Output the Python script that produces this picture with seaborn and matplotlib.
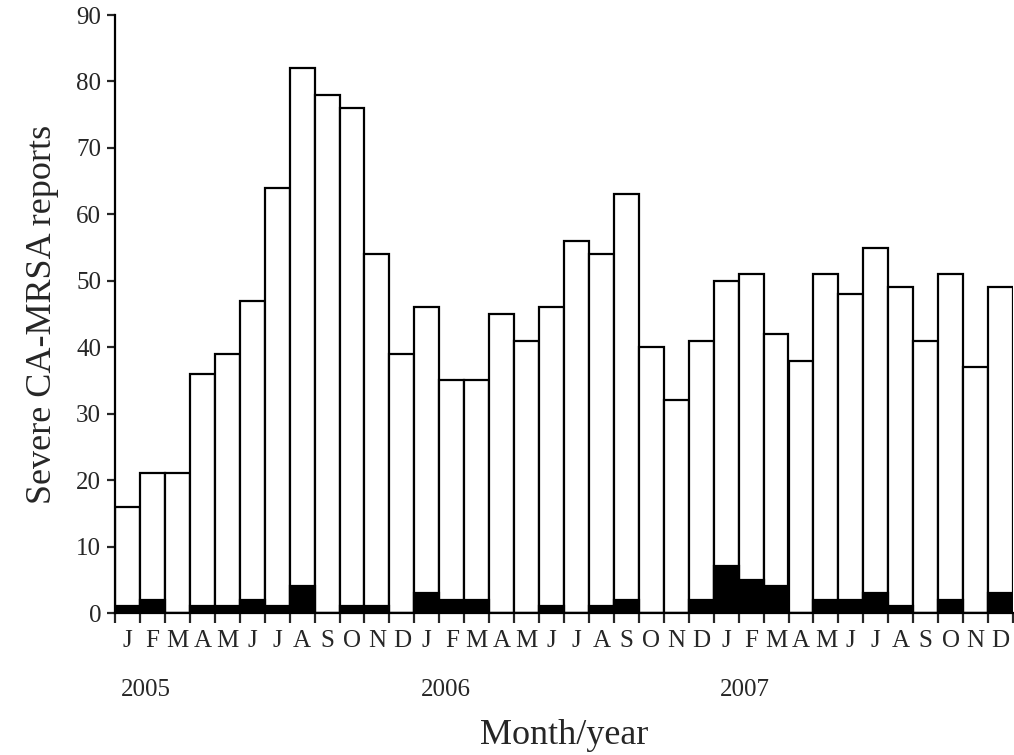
import matplotlib
matplotlib.use("Agg")
import matplotlib.pyplot as plt
import matplotlib.transforms as mtransforms
import seaborn as sns
import pandas as pd
import numpy as np

months = ["J", "F", "M", "A", "M", "J", "J", "A", "S", "O", "N", "D"]
years = ["2005", "2006", "2007"]
total_2005 = [16, 21, 21, 36, 39, 47, 64, 82, 78, 76, 54, 39]
total_2006 = [46, 35, 35, 45, 41, 46, 56, 54, 63, 40, 32, 41]
total_2007 = [50, 51, 42, 38, 51, 48, 55, 49, 41, 51, 37, 49]
severe_2005 = [1, 2, 0, 1, 1, 2, 1, 4, 0, 1, 1, 0]
severe_2006 = [3, 2, 2, 0, 0, 1, 0, 1, 2, 0, 0, 2]
severe_2007 = [7, 5, 4, 0, 2, 2, 3, 1, 0, 2, 0, 3]

totals = total_2005 + total_2006 + total_2007
blacks = severe_2005 + severe_2006 + severe_2007
labels = months * len(years)
idx = list(range(len(totals)))
df = pd.DataFrame({"idx": idx, "total": totals, "black": blacks})

sns.set_style("white")
plt.rcParams["font.family"] = ["Liberation Serif", "DejaVu Serif"]

fig = plt.figure(figsize=(10.14, 7.55), dpi=100)
ax = fig.add_axes([115 / 1014, 1 - 613 / 755, (1013 - 115) / 1014, (613 - 15) / 755])

lw = 1.6
sns.barplot(data=df, x="idx", y="total", color="white", edgecolor="black",
            linewidth=lw, width=1.0, ax=ax, saturation=1)
sns.barplot(data=df, x="idx", y="black", color="black", edgecolor="black",
            linewidth=lw, width=1.0, ax=ax, saturation=1)

n = len(totals)
ax.set_xlim(-0.5, n - 0.5)
ax.set_ylim(0, 90)
ax.set_yticks(range(0, 91, 10))
ax.tick_params(axis="y", labelsize=18, length=6, width=lw, direction="out", left=True, pad=4)

# tick marks at bar boundaries, labels at bar centres
ax.set_xticks(np.arange(-0.5, n, 1.0))
ax.set_xticklabels([])
ax.tick_params(axis="x", which="major", length=7, width=lw, direction="out", bottom=True)
ax.set_xticks(idx, minor=True)
ax.set_xticklabels(labels, minor=True)
ax.tick_params(axis="x", which="minor", length=0, labelsize=18, pad=12)

trans = mtransforms.blended_transform_factory(ax.transData, fig.transFigure)
for k, yr in enumerate(years):
    ax.text(k * 12 - 0.25, 1 - 690 / 755, yr, transform=trans, ha="left", va="center", fontsize=18)

ax.set_xlabel("")
ax.set_ylabel("Severe CA-MRSA reports", fontsize=26, labelpad=12)
fig.text((115 + 1013) / 2 / 1014, 1 - 735 / 755, "Month/year", ha="center", va="center", fontsize=26)

sns.despine(ax=ax)
for s in ["left", "bottom"]:
    ax.spines[s].set_linewidth(lw)
    ax.spines[s].set_color("black")

fig.savefig("out.png", dpi=100)
